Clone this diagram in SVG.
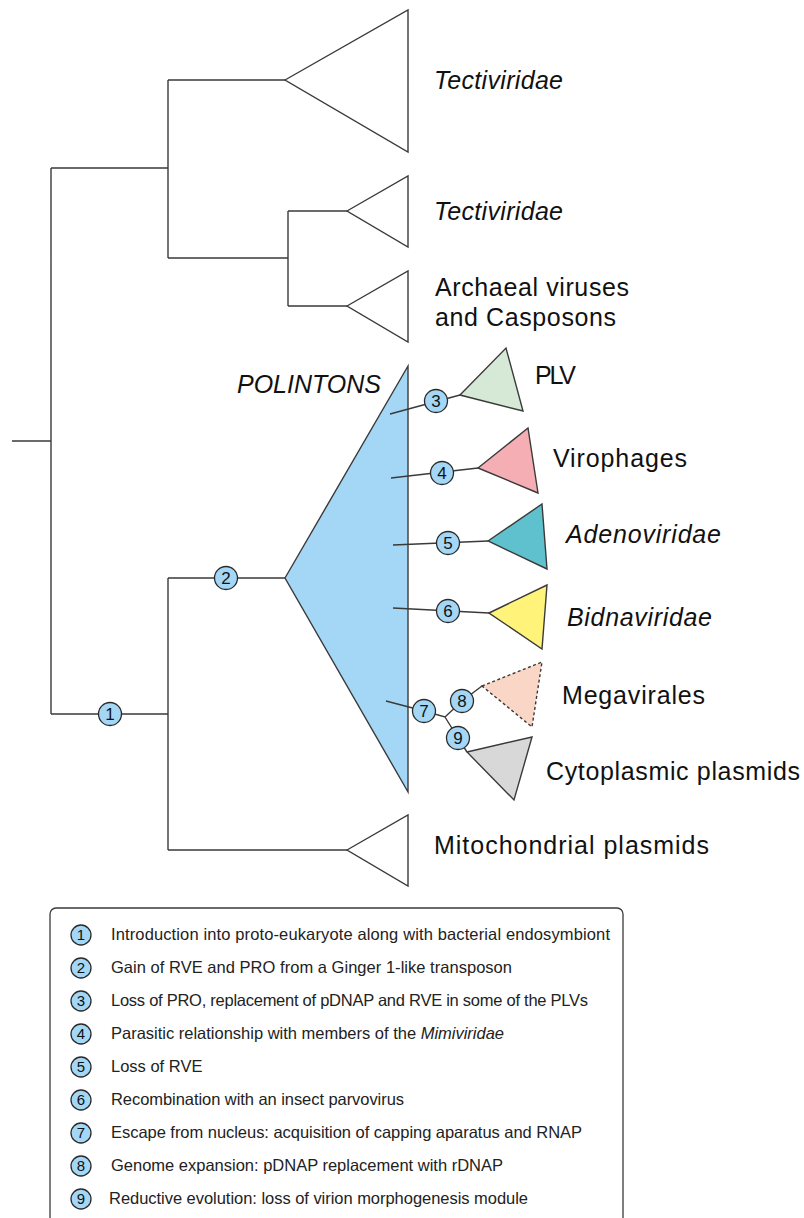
<svg xmlns="http://www.w3.org/2000/svg" width="804" height="1218" viewBox="0 0 804 1218">
<style>
.ln{fill:none;stroke:#3a3a3a;stroke-width:1.4}
.tri{stroke:#3a3a3a;stroke-width:1.4;stroke-linejoin:miter}
.c{fill:#a3d7f5;stroke:#2a2a2a;stroke-width:1.3}
.cn{font-family:"Liberation Sans",Arial,sans-serif;font-size:17px;fill:#111;text-anchor:middle}
.lc{fill:#a3d7f5;stroke:#2a2a2a;stroke-width:1.3}
.ln2{font-family:"Liberation Sans",Arial,sans-serif;font-size:15px;fill:#111;text-anchor:middle}
.lab{font-family:"Liberation Sans",Arial,sans-serif;font-size:25px;fill:#111}
.it{font-style:italic}
.leg{font-family:"Liberation Sans",Arial,sans-serif;font-size:16.5px;fill:#222}
</style>
<rect width="804" height="1218" fill="#ffffff"/>
<g id="tecti1"><polygon class="tri" fill="#fff" points="285,80 408,10 408,152"/><text class="lab it" x="434" y="89" textLength="129">Tectiviridae</text></g>
<g id="tecti2"><polygon class="tri" fill="#fff" points="347,211 408,176 408,247"/><text class="lab it" x="434" y="220" textLength="129">Tectiviridae</text></g>
<g id="archaeal"><polygon class="tri" fill="#fff" points="347,306 408,271 408,342"/><text class="lab" x="435" y="296" textLength="194">Archaeal viruses</text><text class="lab" x="435" y="326" textLength="181">and Casposons</text></g>
<g id="polintons"><polygon class="tri" fill="#a3d7f5" points="285,578 408,366 408,792"/><text class="lab it" x="237" y="393" textLength="144">POLINTONS</text></g>
<g id="plv"><polygon class="tri" fill="#d6e9d6" points="460,395 506,348 523,411"/><text class="lab" x="535" y="384" textLength="41">PLV</text></g>
<g id="virophages"><polygon class="tri" fill="#f4aeb4" points="478,468 528,428 538,493"/><text class="lab" x="553" y="467" textLength="134">Virophages</text></g>
<g id="adeno"><polygon class="tri" fill="#5fc1ce" points="488,541 542,504 547,569"/><text class="lab it" x="566" y="543" textLength="155">Adenoviridae</text></g>
<g id="bidna"><polygon class="tri" fill="#fff37a" points="489,613 547,585 542,649"/><text class="lab it" x="567" y="626" textLength="145">Bidnaviridae</text></g>
<g id="mega"><polygon class="tri" fill="#f9d6c6" stroke-dasharray="3,2.5" points="482,686 542,662 532,727"/><text class="lab" x="562" y="704" textLength="143">Megavirales</text></g>
<g id="cyto"><polygon class="tri" fill="#d8d8d8" points="467,752 532,737 514,800"/><text class="lab" x="546" y="780" textLength="254">Cytoplasmic plasmids</text></g>
<g id="mito"><polygon class="tri" fill="#fff" points="347,850 408,815 408,886"/><text class="lab" x="434" y="854" textLength="275">Mitochondrial plasmids</text></g>
<g id="connectors">
<path class="ln" d="M12 441H51M51 168V714M51 168H168M168 80V258M168 80H285M168 258H288M288 211V306M288 211H347M288 306H347"/>
<path class="ln" d="M51 714H168M168 578V850M168 578H285M168 850H347"/>
<path class="ln" d="M390 414L460 395M391 478L478 468M393 545L488 541M393 608L489 613"/>
<path class="ln" d="M386 701L424 711L445 717L462 701L482 686M445 717L458 738L467 752"/>
</g>
<g id="markers">
<circle class="c" cx="110" cy="714" r="11.5"/><text class="cn" x="110" y="720">1</text>
<circle class="c" cx="226" cy="578" r="11.5"/><text class="cn" x="226" y="584">2</text>
<circle class="c" cx="436" cy="401" r="11.5"/><text class="cn" x="436" y="407">3</text>
<circle class="c" cx="442" cy="473" r="11.5"/><text class="cn" x="442" y="479">4</text>
<circle class="c" cx="448" cy="543" r="11.5"/><text class="cn" x="448" y="549">5</text>
<circle class="c" cx="448" cy="611" r="11.5"/><text class="cn" x="448" y="617">6</text>
<circle class="c" cx="424" cy="711" r="11.5"/><text class="cn" x="424" y="717">7</text>
<circle class="c" cx="462" cy="701" r="11.5"/><text class="cn" x="462" y="707">8</text>
<circle class="c" cx="458" cy="738" r="11.5"/><text class="cn" x="458" y="744">9</text>
</g>
<g id="legend">
<rect x="50" y="908" width="573" height="330" rx="6" fill="#fff" stroke="#3a3a3a" stroke-width="1.3"/>
<circle class="lc" cx="81" cy="935" r="10"/><text class="ln2" x="81" y="940">1</text>
<text class="leg" x="111" y="940" textLength="499">Introduction into proto-eukaryote along with bacterial endosymbiont</text>
<circle class="lc" cx="81" cy="968" r="10"/><text class="ln2" x="81" y="973">2</text>
<text class="leg" x="111" y="973" textLength="401">Gain of RVE and PRO from a Ginger 1-like transposon</text>
<circle class="lc" cx="81" cy="1001" r="10"/><text class="ln2" x="81" y="1006">3</text>
<text class="leg" x="111" y="1006" textLength="477">Loss of PRO, replacement of pDNAP and RVE in some of the PLVs</text>
<circle class="lc" cx="81" cy="1034" r="10"/><text class="ln2" x="81" y="1039">4</text>
<text class="leg" x="111" y="1039" textLength="393">Parasitic relationship with members of the <tspan font-style="italic">Mimiviridae</tspan></text>
<circle class="lc" cx="81" cy="1067" r="10"/><text class="ln2" x="81" y="1072">5</text>
<text class="leg" x="111" y="1072">Loss of RVE</text>
<circle class="lc" cx="81" cy="1100" r="10"/><text class="ln2" x="81" y="1105">6</text>
<text class="leg" x="111" y="1105" textLength="293">Recombination with an insect parvovirus</text>
<circle class="lc" cx="81" cy="1133" r="10"/><text class="ln2" x="81" y="1138">7</text>
<text class="leg" x="111" y="1138" textLength="471">Escape from nucleus: acquisition of capping aparatus and RNAP</text>
<circle class="lc" cx="81" cy="1166" r="10"/><text class="ln2" x="81" y="1171">8</text>
<text class="leg" x="111" y="1171" textLength="392">Genome expansion: pDNAP replacement with rDNAP</text>
<circle class="lc" cx="81" cy="1199" r="10"/><text class="ln2" x="81" y="1204">9</text>
<text class="leg" x="109" y="1204" textLength="419">Reductive evolution: loss of virion morphogenesis module</text>
</g>
</svg>
